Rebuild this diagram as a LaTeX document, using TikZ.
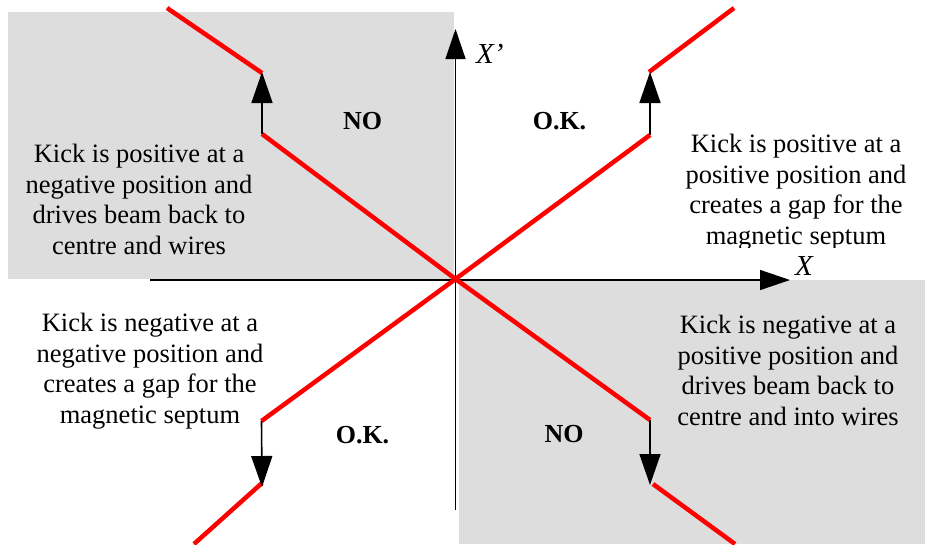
\documentclass[tikz,border=0pt]{standalone}
\usepackage{fontspec}
\setmainfont{Liberation Serif}
\usetikzlibrary{arrows.meta}
\definecolor{panelgray}{RGB}{221,221,221}
\tikzset{
  panel/.style={fill=panelgray,draw=none},
  axis/.style={line width=1.4pt,-{Triangle[length=30pt,width=20pt]}},
  kick/.style={line width=1.6pt,-{Triangle[length=31pt,width=21pt]}},
  beam/.style={red,line width=4.5pt},
  desc/.style={align=center,inner sep=0pt,anchor=base,font=\fontsize{26.5}{30.5}\selectfont},
  verdict/.style={inner sep=0pt,anchor=base,font=\fontsize{26}{30}\selectfont\bfseries},
  axlabel/.style={inner sep=0pt,anchor=base west,font=\fontsize{29}{30}\selectfont\itshape}
}
\begin{document}
\begin{tikzpicture}[x=1pt,y=-1pt]
\useasboundingbox (0,0) rectangle (925,544);
% panels
\fill[panel] (8,12) rectangle (454,279);
\fill[panel] (459,280) rectangle (925,544);
% text blocks (anchored at the baseline of their last line)
\node[desc] (tl) at (139,254) {Kick is positive at a\\negative position and\\drives beam back to\\centre and wires};
\begin{scope}
\clip (600,100) rectangle (925,247);
\node[desc] (tr) at (796,244) {Kick is positive at a\\positive position and\\creates a gap for the\\magnetic septum};
\end{scope}
\node[desc] (bl) at (150,423) {Kick is negative at a\\negative position and\\creates a gap for the\\magnetic septum};
\node[desc] (br) at (788,425) {Kick is negative at a\\positive position and\\drives beam back to\\centre and into wires};
% verdict labels
\node[verdict] (no1) at (362.5,129) {NO};
\node[verdict] (ok1) at (559.5,129) {O.K.};
\node[verdict] (ok2) at (362.5,443) {O.K.};
\node[verdict] (no2) at (564,442) {NO};
% axes
\coordinate (xs) at (150,280);
\coordinate (xe) at (790,280);
\coordinate (ys) at (455.5,510);
\coordinate (ye) at (455.5,29);
\draw[axis] (xs) -- (xe);
\draw[axis] (ys) -- (ye);
\node[axlabel] (xl) at (795,275) {X};
\node[axlabel] (ypl) at (476,63) {X’};
% beam points
\coordinate (c) at (455.5,279);
\coordinate (tla) at (262,134);
\coordinate (tlb) at (262,73);
\coordinate (tlc) at (167,8);
\coordinate (tra) at (650,135);
\coordinate (trb) at (649,72);
\coordinate (trc) at (734,8);
\coordinate (bla) at (261.5,421);
\coordinate (blb) at (262,483);
\coordinate (blc) at (194,544);
\coordinate (bra) at (650,420);
\coordinate (brb) at (653,484);
\coordinate (brc) at (735,544);
% beam lines
\draw[beam] (tla) -- (c) -- (tra);
\draw[beam] (bla) -- (c) -- (bra);
\draw[beam] (tlb) -- (tlc);
\draw[beam] (trb) -- (trc);
\draw[beam] (blb) -- (blc);
\draw[beam] (brb) -- (brc);
% kicks
\draw[kick] (tla) -- (262,72);
\draw[kick] (tra) -- (650,72);
\draw[kick] (bla) -- (262,487);
\draw[kick] (bra) -- (650,485);
\end{tikzpicture}
\end{document}
